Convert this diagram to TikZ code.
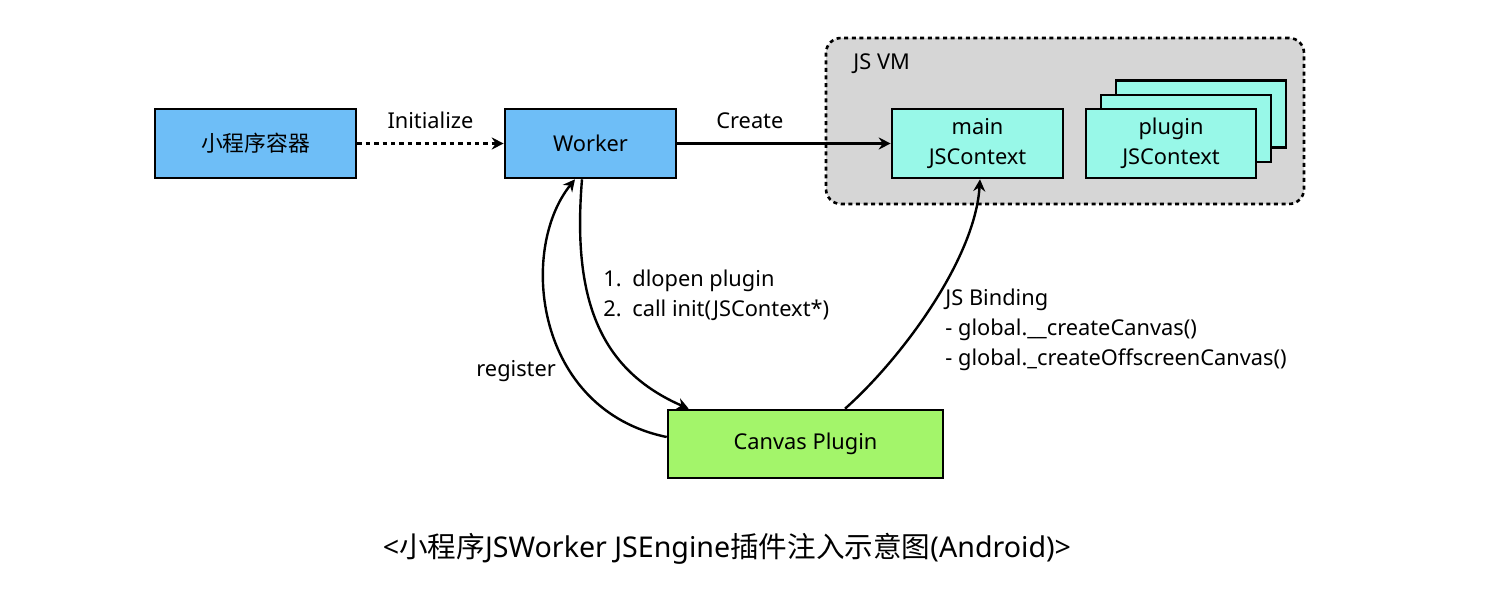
\documentclass[tikz,border=0pt]{standalone}
\usepackage{fontspec}
\setmainfont{Noto Sans}
\newfontfamily\cjk{Noto Sans CJK SC}
\usetikzlibrary{arrows.meta,calc}
\definecolor{boxblue}{HTML}{6EBEF7}
\definecolor{boxcyan}{HTML}{98F8E8}
\definecolor{boxgreen}{HTML}{A3F56A}
\definecolor{vmgray}{HTML}{D6D6D6}
\begin{document}
\begin{tikzpicture}[x=0.5pt,y=-0.5pt,
  every node/.style={font=\fontsize{10.9}{15}\selectfont, inner sep=0pt},
  box/.style={draw=black, line width=1.3pt, minimum height=34.5pt, align=center},
  arr/.style={line width=1.2pt, -{Stealth[length=6pt,width=6pt,inset=2pt]}},
  lbl/.style={align=left}
]
\useasboundingbox (0,0) rectangle (1492,615);
% JS VM container
\node[draw=black, fill=vmgray, line width=1.3pt, dash pattern=on 2pt off 1.8pt,
  rounded corners=7.5pt, minimum width=239pt, minimum height=83pt] (vm) at (1065,121) {};
\node[anchor=west] (vmlabel) at (853,64) {JS VM};
% boxes
\node[box, fill=boxblue, minimum width=100.5pt] (container) at (255.5,143.5) {\cjk 小程序容器};
\node[box, fill=boxblue, minimum width=85.5pt] (worker) at (590.5,143.5) {Worker};
\node[box, fill=boxcyan, minimum width=85.5pt] (main) at (977.5,143.5) {main\\JSContext};
\node[box, fill=boxcyan, minimum width=85pt, minimum height=33.5pt] (p3) at (1201,114) {};
\node[box, fill=boxcyan, minimum width=85pt, minimum height=33.5pt] (p2) at (1186,128.5) {};
\node[box, fill=boxcyan, minimum width=85pt] (p1) at (1171,143.5) {plugin\\JSContext};
\node[box, fill=boxgreen, minimum width=137.5pt, minimum height=34pt] (canvas) at (805.5,444) {Canvas Plugin};
% connectors
\draw[arr, dash pattern=on 2.2pt off 2pt] (container.east) -- node[above=7pt] (initlbl) {Initialize} (worker.west);
\draw[arr] (worker.east) -- node[pos=0.34, above=7pt] (createlbl) {Create} (main.west);
% dlopen
\draw[arr] ($(worker.south)+(-8.5,0)$) .. controls (572,300) and (600,370) .. ($(canvas.north west)+(22,0)$);
% register
\draw[arr] ($(canvas.west)+(0,-7)$) .. controls (535,410) and (518,250) .. ($(worker.south)+(-15.5,0)$);
% JS binding
\draw[arr] ($(canvas.north)+(39.5,0)$) .. controls (900,360) and (975,260) .. ($(main.south)+(2.5,0)$);
% labels
\node[lbl, anchor=west] (dl) at (603,295) {\makebox[14.5pt][l]{1.}dlopen plugin\\\makebox[14.5pt][l]{2.}call init(JSContext*)};
\node[anchor=west] (reg) at (476,371) {register};
\node[lbl, anchor=west] (bind) at (945,330) {JS Binding\\- global.\_\_createCanvas()\\- global.\_createOffscreenCanvas()};
% title
\node (title) at (727,549) {\fontsize{14.3}{17}\selectfont <{\cjk 小程序}JSWorker JSEngine{\cjk 插件注入示意图}(Android)>};
\end{tikzpicture}
\end{document}
